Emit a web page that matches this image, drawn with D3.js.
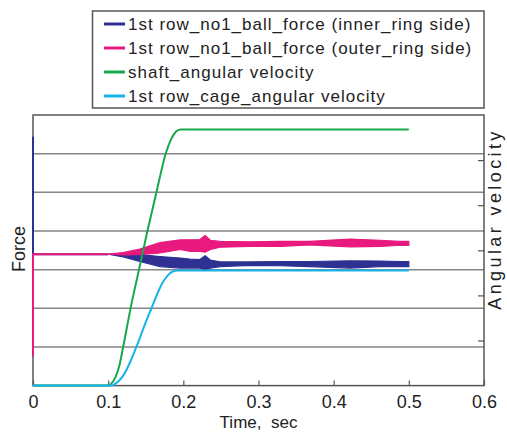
<!DOCTYPE html>
<html>
<head>
<meta charset="utf-8">
<script src="https://cdn.jsdelivr.net/npm/d3@7"></script>
<style>
  html, body { margin: 0; padding: 0; background: #fff; overflow: hidden; }
  svg { display: block; }
  text { font-family: "Liberation Sans", Arial, sans-serif; fill: #222; }
</style>
</head>
<body>
<svg id="chart"></svg>
<script>
const margin = { left: 33, right: 23, top: 115, bottom: 48.4 };
const width = 507, height = 434;
const innerWidth = width - margin.left - margin.right;
const innerHeight = height - margin.top - margin.bottom;

// ---- data ----
const timeTicks = [0, 0.1, 0.2, 0.3, 0.4, 0.5, 0.6];
const forceGrid = [1, 2, 3, 4, 5, 6];
const velocityTicks = [1, 2, 3, 4, 5];

const seriesNames = [
  "1st row_no1_ball_force (inner_ring side)",
  "1st row_no1_ball_force (outer_ring side)",
  "shaft_angular velocity",
  "1st row_cage_angular velocity"
];
const seriesColors = ["#2e3192", "#e8197f", "#17a84b", "#16b2ea"];

// force before the run-up (t, force)
const innerStart = [[0, 6.44], [0, 3.40], [0.10, 3.40]];
const outerStart = [[0, 0.75], [0, 3.40], [0.10, 3.40]];

// noisy force band: [t, upper, lower]
const innerBand = [
  [0.100, 3.40, 3.40], [0.120, 3.40, 3.33], [0.142, 3.39, 3.21],
  [0.169, 3.34, 3.08], [0.196, 3.30, 3.04], [0.209, 3.27, 3.04],
  [0.222, 3.26, 3.04], [0.229, 3.36, 3.00], [0.236, 3.25, 3.04],
  [0.249, 3.20, 3.08], [0.289, 3.20, 3.11], [0.329, 3.21, 3.10],
  [0.368, 3.21, 3.08], [0.422, 3.23, 3.04], [0.462, 3.22, 3.08],
  [0.488, 3.21, 3.08], [0.500, 3.21, 3.08]
];
const outerBand = [
  [0.100, 3.40, 3.40], [0.120, 3.44, 3.38], [0.142, 3.53, 3.39],
  [0.169, 3.70, 3.43], [0.196, 3.77, 3.52], [0.209, 3.77, 3.47],
  [0.222, 3.78, 3.47], [0.229, 3.88, 3.45], [0.236, 3.76, 3.52],
  [0.249, 3.73, 3.58], [0.289, 3.72, 3.60], [0.329, 3.73, 3.60],
  [0.368, 3.73, 3.64], [0.422, 3.79, 3.59], [0.462, 3.76, 3.60],
  [0.488, 3.73, 3.63], [0.500, 3.73, 3.63]
];

// angular velocities (t, velocity)
const shaftVel = [
  [0, 0], [0.100, 0], [0.105, 0.06], [0.110, 0.20], [0.115, 0.45],
  [0.120, 0.86], [0.130, 1.73], [0.141, 2.57], [0.152, 3.41],
  [0.164, 4.27], [0.177, 5.17], [0.184, 5.47], [0.190, 5.63],
  [0.196, 5.68], [0.500, 5.68]
];
const cageVel = [
  [0, 0], [0.105, 0], [0.110, 0.05], [0.115, 0.12], [0.120, 0.22],
  [0.130, 0.55], [0.139, 0.92], [0.148, 1.32], [0.158, 1.73],
  [0.165, 2.02], [0.172, 2.27], [0.179, 2.44], [0.186, 2.53],
  [0.193, 2.55], [0.500, 2.55]
];

const svg = d3.select('#chart')
  .attr("width", width)
  .attr("height", height);

const g = svg.append("g")
  .attr("transform", `translate(${margin.left},${margin.top})`);

const xScale = d3.scaleLinear().domain([0, 0.6]).range([0, innerWidth]);
const yForce = d3.scaleLinear().domain([0, 7]).range([innerHeight, 0]);
const yVel = d3.scaleLinear().domain([0, 6]).range([innerHeight, 0]);

// gridlines
g.append("g")
  .selectAll("line")
  .data(forceGrid)
  .enter().append("line")
  .attr("x1", 0).attr("x2", innerWidth)
  .attr("y1", d => yForce(d)).attr("y2", d => yForce(d))
  .attr("stroke", "#858585")
  .attr("stroke-width", 1.5);

// frame
g.append("rect")
  .attr("width", innerWidth).attr("height", innerHeight)
  .attr("fill", "none")
  .attr("stroke", "#555")
  .attr("stroke-width", 1.5);

// bottom axis, ticks pointing in
const xAxis = d3.axisBottom(xScale)
  .tickValues(timeTicks)
  .tickSize(-5)
  .tickPadding(10)
  .tickFormat(d => d === 0 ? "0" : d3.format(".1f")(d));

const xAxisG = g.append("g")
  .attr("transform", `translate(0,${innerHeight})`)
  .call(xAxis);
xAxisG.select(".domain").remove();
xAxisG.selectAll(".tick line").attr("stroke", "#555").attr("stroke-width", 1.2);
xAxisG.selectAll("text")
  .style("font-size", "18px")
  .style("fill", "#222")
  .style("font-family", '"Liberation Sans", Arial, sans-serif');

// right axis, ticks pointing in, no labels
const yAxisR = d3.axisRight(yVel)
  .tickValues(velocityTicks)
  .tickSize(-6);
const yAxisRG = g.append("g")
  .attr("transform", `translate(${innerWidth},0)`)
  .call(yAxisR);
yAxisRG.select(".domain").remove();
yAxisRG.selectAll(".tick text").remove();
yAxisRG.selectAll(".tick line").attr("stroke", "#555").attr("stroke-width", 1.2);

const forceLine = d3.line().x(d => xScale(d[0])).y(d => yForce(d[1]));
const velLine = d3.line().x(d => xScale(d[0])).y(d => yVel(d[1]))
  .curve(d3.curveMonotoneX);
const bandArea = d3.area()
  .x(d => xScale(d[0]))
  .y0(d => yForce(d[2]))
  .y1(d => yForce(d[1]));

// inner ring force
g.append("path").datum(innerStart)
  .attr("d", forceLine).attr("fill", "none")
  .attr("stroke", seriesColors[0]).attr("stroke-width", 2);
g.append("path").datum(innerBand)
  .attr("d", bandArea)
  .attr("fill", seriesColors[0])
  .attr("stroke", seriesColors[0]).attr("stroke-width", 1.2);

// outer ring force
g.append("path").datum(outerStart)
  .attr("d", forceLine).attr("fill", "none")
  .attr("stroke", seriesColors[1]).attr("stroke-width", 2);
g.append("path").datum(outerBand)
  .attr("d", bandArea)
  .attr("fill", seriesColors[1])
  .attr("stroke", seriesColors[1]).attr("stroke-width", 1.2);

// shaft angular velocity
g.append("path").datum(shaftVel)
  .attr("d", velLine).attr("fill", "none")
  .attr("stroke", seriesColors[2]).attr("stroke-width", 2);

// cage angular velocity
g.append("path").datum(cageVel)
  .attr("d", velLine).attr("fill", "none")
  .attr("stroke", seriesColors[3]).attr("stroke-width", 2);

// axis titles
svg.append("text")
  .attr("x", margin.left + innerWidth / 2)
  .attr("y", 428)
  .attr("text-anchor", "middle")
  .style("font-size", "17px")
  .style("white-space", "pre")
  .text("Time,  sec");

svg.append("text")
  .attr("transform", "translate(25,249) rotate(-90)")
  .attr("text-anchor", "middle")
  .style("font-size", "18px")
  .text("Force");

svg.append("text")
  .attr("transform", "translate(501,219) rotate(-90)")
  .attr("text-anchor", "middle")
  .style("font-size", "18px")
  .style("letter-spacing", "3.4px")
  .text("Angular velocity");

// legend
const legend = svg.append("g");
legend.append("rect")
  .attr("x", 92.5).attr("y", 11)
  .attr("width", 391.5).attr("height", 97)
  .attr("fill", "#fff")
  .attr("stroke", "#555")
  .attr("stroke-width", 1.5);

const items = legend.selectAll(".item")
  .data(seriesNames)
  .enter().append("g")
  .attr("transform", (d, i) => `translate(104,${24 + i * 24})`);
items.append("line")
  .attr("x1", 0).attr("x2", 21)
  .attr("stroke", (d, i) => seriesColors[i])
  .attr("stroke-width", 3);
items.append("text")
  .attr("x", 24).attr("y", 6)
  .style("font-size", "17px")
  .style("letter-spacing", "1px")
  .text(d => d);
</script>
</body>
</html>
